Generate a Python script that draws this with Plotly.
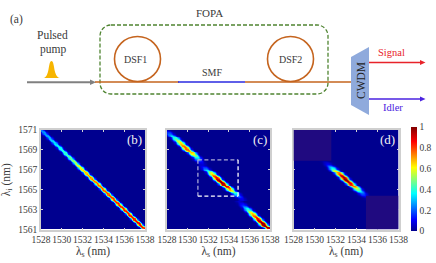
import plotly.graph_objects as go

W, H = 436, 263

x_ticks = [1528, 1530, 1532, 1534, 1536, 1538]
y_ticks = [1561, 1563, 1565, 1567, 1569, 1571]
cbar_ticks = [0, 0.2, 0.4, 0.6, 0.8, 1]
cbar_text = ["0", "0.2", "0.4", "0.6", "0.8", "1"]

# wavelength grid, 0.125 nm steps
lambda_s = [1528 + 0.125 * n for n in range(81)]
lambda_i = [1571 - 0.125 * n for n in range(81)]

# peak height along the ridge, one value per lambda_i row, top to bottom
ridge_b = [.24, .25, .26, .27, .28, .29, .30, .31, .32, .33,
           .34, .35, .36, .37, .38, .39, .40, .41, .42, .43,
           .44, .45, .46, .48, .50, .52, .54, .56, .58, .60,
           .62, .64, .66, .68, .70, .71, .72, .73, .74, .75,
           .76, .76, .77, .77, .78, .78, .79, .79, .80, .80,
           .81, .81, .82, .82, .83, .83, .84, .84, .85, .85,
           .85, .85, .86, .86, .86, .87, .87, .87, .88, .88,
           .88, .89, .89, .90, .90, .90, .90, .90, .88, .84, .76]
ridge_c = [.06, .10, .16, .22, .28, .34, .40, .46, .52, .58, .63,
           .68, .72, .76, .78, .78, .76, .72, .68, .62, .55,
           .47, .38, .30, .22, .16, .10, .07, .07, .10, .16,
           .24, .34, .45, .56, .66, .74, .82, .88, .93, .97,
           1, 1, .98, .95, .90, .84, .76, .68, .58, .48,
           .38, .29, .22, .16, .11, .08, .06, .07, .10, .15,
           .21, .28, .36, .44, .52, .60, .67, .73, .79, .84,
           .88, .92, .95, .98, 1, 1, 1, .98, .94, .86]
ridge_d = [0] * 25 + [.03, .06, .10, .16, .24, .33, .43, .54, .64, .74,
                      .82, .89, .94, .98, 1, 1, .98, .95, .90, .84,
                      .76, .68, .58, .48, .38, .29, .21, .15, .10, .06,
                      .03, .01] + [0] * 24

# sideways position of the ridge against the diagonal, in grid cells
shift_b = [0] * 81
shift_c = [-1] * 6 + [0] * 12 + [1] * 6 + [0] * 4 + [-1] * 5 + [0] * 12 + [1] * 5 + [2] * 7 + [-1] * 21 + [0] * 3
shift_d = [0] * 25 + [-1] * 9 + [0] * 11 + [1] * 36

# ridge cross-section, offsets -6..+6 cells
cross_b = [0, 0, .02, .12, .42, .88, 1, .88, .42, .12, .02, 0, 0]
cross_c = [0, .04, .15, .38, .70, .95, 1, .95, .70, .38, .15, .04, 0]

# dim squares of panel (d): x0, x1, y0, y1 in nm
dim_d_1 = [1528, 1531.6, 1567.9, 1571]
dim_d_2 = [1534.9, 1538, 1561, 1564.4]
# dashed window of panel (c)
window_c = [1531.0, 1534.9, 1564.35, 1568.0]

jet = [[0, "#00008f"], [.11, "#0000ff"], [.36, "#00ffff"], [.61, "#ffff00"], [.86, "#ff0000"], [1, "#800000"]]


def grid(ridge, shift, cross):
    z = [[0.0] * 81 for _ in range(81)]
    for i, (a, s) in enumerate(zip(ridge, shift)):
        for k, v in enumerate(cross):
            j = i + s + k - 6
            if 0 <= j < 81:
                z[i][j] = a * v
    return z


SERIF = "Liberation Serif"
INK = "#3a3a3a"
fig = go.Figure()

panels = [
    ("", "", grid(ridge_b, shift_b, cross_b), (41, 145), "(b)"),
    ("2", "2", grid(ridge_c, shift_c, cross_c), (167, 270), "(c)"),
    ("3", "3", grid(ridge_d, shift_d, cross_c), (293.5, 398.5), "(d)"),
]
TOP, BOTTOM = 130, 229.5

layout = dict(
    width=W, height=H, autosize=False, margin=dict(l=0, r=0, t=0, b=0, autoexpand=False),
    paper_bgcolor="white", plot_bgcolor="white", showlegend=False,
    font=dict(family=SERIF, size=9.5, color=INK),
    coloraxis=dict(
        colorscale=jet, cmin=0, cmax=1,
        colorbar=dict(
            x=411 / W, xanchor="left", xpad=0, ypad=0, thickness=5.5, thicknessmode="pixels",
            len=104, lenmode="pixels", y=1 - 231 / H, yanchor="bottom", outlinewidth=0,
            tickvals=cbar_ticks, ticktext=cbar_text, ticks="",
            tickfont=dict(family=SERIF, size=9.5, color=INK),
        ),
    ),
)
annotations, shapes = [], []

for n, (xs, ys, z, (x0, x1), tag) in enumerate(panels):
    fig.add_trace(go.Heatmap(x=lambda_s, y=lambda_i, z=z, coloraxis="coloraxis",
                             zsmooth="best", xaxis="x" + xs, yaxis="y" + ys, hoverinfo="skip"))
    layout["xaxis" + xs] = dict(
        domain=[x0 / W, x1 / W], range=[1528, 1538], anchor="y" + ys, tickvals=x_ticks,
        ticks="inside", ticklen=2, tickcolor="#d4d4d4", showline=True, linecolor="#cfcfcf", linewidth=1.5,
        mirror="ticks", showgrid=False, zeroline=False, tickangle=0, tickfont=dict(size=9.5, color=INK),
        title=dict(text="λ<sub>s</sub> (nm)", font=dict(size=11.5, color=INK), standoff=1),
    )
    yaxis = dict(
        domain=[1 - BOTTOM / H, 1 - TOP / H], range=[1561, 1571], anchor="x" + xs, tickvals=y_ticks,
        ticks="inside", ticklen=2, tickcolor="#d4d4d4", showline=True, linecolor="#cfcfcf", linewidth=1.5,
        mirror="ticks", showgrid=False, zeroline=False, showticklabels=(n == 0),
        tickfont=dict(size=9.5, color=INK),
    )
    if n == 0:
        yaxis["title"] = dict(text="λ<sub>i</sub> (nm)", font=dict(size=11.5, color=INK))
    layout["yaxis" + ys] = yaxis
    annotations.append(dict(xref="x" + xs, yref="y" + ys, x=1537.9, y=1570.0, text=tag, showarrow=False,
                            xanchor="right", yanchor="middle", font=dict(size=13, color="#f2f2f2")))

for r in (dim_d_1, dim_d_2):
    shapes.append(dict(type="rect", xref="x3", yref="y3", x0=r[0], x1=r[1], y0=r[2], y1=r[3],
                       fillcolor="#200a80", line=dict(width=0), layer="above"))

wx0, wx1, wy0, wy1 = window_c
for (a, b, c, d, col) in [(wx0, wx0, wy0, wy1, "#a9a9d6"), (wx0, wx1, wy1, wy1, "#a9a9d6"),
                          (wx1, wx1, wy0, wy1, "#ffffff"), (wx0, wx1, wy0, wy0, "#ffffff")]:
    shapes.append(dict(type="line", xref="x2", yref="y2", x0=a, x1=b, y0=c, y1=d,
                       line=dict(color=col, width=1.3, dash="4px,2.5px")))


# ---- schematic (a), placed in page pixels ----
def px(x):
    return x / W


def py(y):
    return 1 - y / H


def line(x0, y0, x1, y1, col, w=1.6, dash=None):
    shapes.append(dict(type="line", xref="paper", yref="paper", x0=px(x0), y0=py(y0), x1=px(x1), y1=py(y1),
                       line=dict(color=col, width=w, dash=dash)))


def poly(pts, fill):
    d = "M" + " L".join(f"{px(a):.5f},{py(b):.5f}" for a, b in pts) + " Z"
    shapes.append(dict(type="path", xref="paper", yref="paper", path=d, fillcolor=fill, line=dict(width=0)))


def label(x, y, text, col=INK, size=10.5, angle=0):
    annotations.append(dict(xref="paper", yref="paper", x=px(x), y=py(y), text=text, showarrow=False,
                            xanchor="center", yanchor="middle", textangle=angle,
                            font=dict(size=size, color=col, family=SERIF)))


ORANGE, GREEN = "#c5641e", "#4f8431"
# rounded dashed box
bx0, bx1, by0, by1, rad = 100, 328, 25, 94, 11
c = 0.45 * rad
pts = (f"M{px(bx0 + rad):.5f},{py(by0):.5f} L{px(bx1 - rad):.5f},{py(by0):.5f} "
       f"C{px(bx1 - c):.5f},{py(by0):.5f} {px(bx1):.5f},{py(by0 + c):.5f} {px(bx1):.5f},{py(by0 + rad):.5f} "
       f"L{px(bx1):.5f},{py(by1 - rad):.5f} "
       f"C{px(bx1):.5f},{py(by1 - c):.5f} {px(bx1 - c):.5f},{py(by1):.5f} {px(bx1 - rad):.5f},{py(by1):.5f} "
       f"L{px(bx0 + rad):.5f},{py(by1):.5f} "
       f"C{px(bx0 + c):.5f},{py(by1):.5f} {px(bx0):.5f},{py(by1 - c):.5f} {px(bx0):.5f},{py(by1 - rad):.5f} "
       f"L{px(bx0):.5f},{py(by0 + rad):.5f} "
       f"C{px(bx0):.5f},{py(by0 + c):.5f} {px(bx0 + c):.5f},{py(by0):.5f} {px(bx0 + rad):.5f},{py(by0):.5f} Z")
shapes.append(dict(type="path", xref="paper", yref="paper", path=pts,
                   line=dict(color=GREEN, width=1.3, dash="4px,2px")))

# fibre loops
for cx in (137.5, 290.5):
    shapes.append(dict(type="circle", xref="paper", yref="paper", x0=px(cx - 23), x1=px(cx + 23),
                       y0=py(36.5 + 45), y1=py(36.5), line=dict(color=ORANGE, width=1.6)))
# beam lines
line(27, 82.3, 93, 82.3, "#808080", 2)
poly([(96, 82.3), (90, 79.6), (90, 85)], "#808080")
line(95, 82, 179, 82, ORANGE)
line(178, 82, 245, 82, "#2a2ae0")
line(245, 82, 351, 82, ORANGE)
# pulse
p = "M%.5f,%.5f C%.5f,%.5f %.5f,%.5f %.5f,%.5f C%.5f,%.5f %.5f,%.5f %.5f,%.5f Z" % (
    px(43.5), py(78), px(50), py(77), px(48), py(61), px(51.5), py(61),
    px(55), py(61), px(53), py(77), px(60), py(78))
shapes.append(dict(type="path", xref="paper", yref="paper", path=p, fillcolor="#f7b500", line=dict(width=0)))
# CWDM block
poly([(351, 57), (369, 47), (369, 115), (351, 105)], "#8faadc")
# outputs
line(369, 62.5, 422, 62.5, "#e8232a")
poly([(425.5, 62.5), (420, 60), (420, 65)], "#e8232a")
line(369, 99, 422, 99, "#4a22e0")
poly([(425.5, 99), (420, 96.5), (420, 101.5)], "#4a22e0")

label(16.5, 19.5, "(a)", size=11.5)
label(209, 12.5, "FOPA", size=11)
label(52.5, 35, "Pulsed", size=11.5)
label(52.5, 49.5, "pump", size=11.5)
label(135.5, 59.5, "DSF1", size=10)
label(290, 59.5, "DSF2", size=10)
label(212, 72, "SMF", size=10)
label(361, 81, "CWDM", size=11.5, angle=-90, col="#222222")
label(391, 52.5, "Signal", col="#e8232a", size=10.5)
label(393, 108, "Idler", col="#4a22e0", size=10.5)

layout["annotations"] = annotations
layout["shapes"] = shapes
fig.update_layout(**layout)
fig.write_html("out.html", config={"displayModeBar": False},
               post_script="document.body.style.margin='0';document.body.style.overflow='hidden';")
